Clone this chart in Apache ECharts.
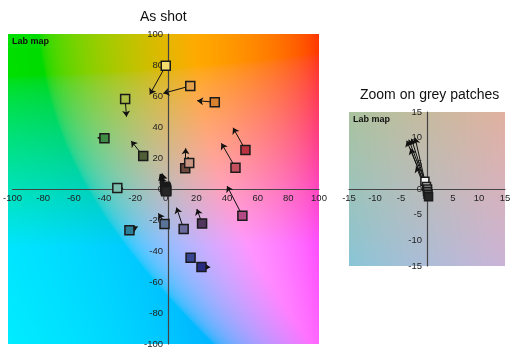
<!DOCTYPE html>
<html><head><meta charset="utf-8">
<script src="https://cdn.jsdelivr.net/npm/echarts@6/dist/echarts.min.js"></script>
<style>html,body{margin:0;padding:0;background:#fff}#c{width:530px;height:360px}</style>
</head><body><div id="c"></div>
<script>
// ---- data ----
// colour patches: measured position (square) and reference position (arrow head), in Lab a*/b*
const patchNames = ['yellow','orange','orange2','yellowgreen','green','darkgreen','brown','lightbrown','red','pinkred','magenta','bluishgreen','cyan','bluesky','lavender','purple','blue','darkblue'];
const patchA = [0, 16, 32, -26.5, -40, -14.7, 12.7, 15.3, 52, 45.5, 50, -31.6, -23.7, -0.8, 11.7, 23.7, 16.2, 23.3];
const patchB = [79.5, 66.5, 56, 58, 32.7, 21.3, 13.4, 16.8, 25.2, 13.7, -17.2, 0.6, -26.6, -22.6, -25.8, -22.2, -44.3, -50.3];
const refA = [-10.4, -1.6, 20.5, -25.6, -44.5, -22.6, 13, 14.5, 43.9, 36.3, 40, -27.8, -18.3, -4.8, 7, 20.3, 16.2, 29];
const refB = [61, 61.7, 57, 46.6, 33, 31, 26.3, 20.8, 39.5, 29.5, 1.9, 0.6, -24.3, -15.7, -12, -12.9, -44.3, -50.5];
const patchColors = ['#f2dc6e','#e3a24a','#d9822e','#a9bd45','#3f8b45','#4f5e37','#6e4a3c','#c89583','#b8323f','#c4505f','#b44a85','#7cbeae','#2a7f99','#5a7499','#6a6a9c','#533660','#36458f','#262a80'];
// grey patches
const greyA = [-0.4, -0.1, 0.1, 0.1, 0.2, 0.3];
const greyB = [1.5, 0.5, 0.0, -0.5, -1.0, -1.5];
const greyRefA = [-2.3, -3.0, -3.5, -3.9, -3.2, -2.1];
const greyRefB = [10, 9.8, 9.6, 9.4, 7.9, 4.4];
const greyColors = ['#f4f4f4','#c8c8c8','#9a9a9a','#6c6c6c','#454545','#262626'];
// axis ticks
const mainTicks = [-100, 100, 20];
const zoomTicks = [-15, 15, 5];

// ---- background Lab map ----
function lab2rgb(L, a, b) {
  const fy = (L + 16) / 116, fx = fy + a / 500, fz = fy - b / 200;
  const finv = t => t > 6/29 ? t*t*t : 3*(6/29)*(6/29)*(t - 4/29);
  const X = 0.95047*finv(fx), Y = finv(fy), Z = 1.08883*finv(fz);
  let r = 3.2406*X - 1.5372*Y - 0.4986*Z;
  let g = -0.9689*X + 1.8758*Y + 0.0415*Z;
  let bl = 0.0557*X - 0.2040*Y + 1.0570*Z;
  const gm = c => { c = c <= 0.0031308 ? 12.92*c : 1.055*Math.pow(c, 1/2.4) - 0.055; return Math.max(0, Math.min(255, Math.round(c*255))); };
  return [gm(r), gm(g), gm(bl)];
}
function makeBg(w, h, lo, hi) {
  const cv = document.createElement('canvas'); cv.width = w; cv.height = h;
  const ctx = cv.getContext('2d'); const img = ctx.createImageData(w, h);
  for (let j = 0; j < h; j++) for (let i = 0; i < w; i++) {
    const a = lo + (hi - lo) * (i + 0.5) / w, b = hi - (hi - lo) * (j + 0.5) / h;
    const c = lab2rgb(76, a, b); const k = (j*w + i)*4;
    img.data[k] = c[0]; img.data[k+1] = c[1]; img.data[k+2] = c[2]; img.data[k+3] = 255;
  }
  ctx.putImageData(img, 0, 0); return cv;
}

const G0 = {left: 8, top: 34, width: 311, height: 310};
const G1 = {left: 349, top: 112, width: 156, height: 154};
const FONT = 'Liberation Sans, Arial, sans-serif';

function axisX(gi, t, g) {
  return {type:'value', gridIndex: gi, min: t[0], max: t[1], interval: t[2], position:'bottom', offset: -g.height/2,
    axisLine:{onZero:false, lineStyle:{color:'#444', width:1.2}}, axisTick:{show:false}, splitLine:{show:false},
    axisLabel:{fontSize:9.5, color:'#222', margin:4, fontFamily: FONT}};
}
function axisY(gi, t, g) {
  return {type:'value', gridIndex: gi, min: t[0], max: t[1], interval: t[2], position:'left', offset: -g.width/2,
    axisLine:{onZero:false, lineStyle:{color:'#444', width:1.2}}, axisTick:{show:false}, splitLine:{show:false},
    axisLabel:{fontSize:9.5, color:'#222', margin:5, fontFamily: FONT}};
}
function arrows(A, B, RA, RB) {
  const out = [];
  for (let i = 0; i < A.length; i++) {
    if (A[i] === RA[i] && B[i] === RB[i]) continue;
    out.push({coords: [[A[i], B[i]], [RA[i], RB[i]]]});
  }
  return out;
}
function squares(A, B, C) {
  return A.map((a, i) => ({value: [a, B[i]], itemStyle: {color: C[i]}}));
}
const allA = patchA.concat(greyA), allB = patchB.concat(greyB);
const allRA = refA.concat(greyRefA), allRB = refB.concat(greyRefB);
const allC = patchColors.concat(greyColors);

const chart = echarts.init(document.getElementById('c'));
chart.setOption({
  animation: false,
  title: [
    {text:'As shot', left: 140, top: 10, padding: 0, textStyle:{fontSize:14, fontWeight:'normal', color:'#111', fontFamily: FONT}},
    {text:'Zoom on grey patches', left: 360, top: 88, padding: 0, textStyle:{fontSize:14, fontWeight:'normal', color:'#111', fontFamily: FONT}}
  ],
  graphic: [
    {type:'image', left: G0.left, top: G0.top, z: -10, style:{image: makeBg(G0.width, G0.height, -100, 100), width: G0.width, height: G0.height}},
    {type:'image', left: G1.left, top: G1.top, z: -10, style:{image: makeBg(G1.width, G1.height, -15, 15), width: G1.width, height: G1.height}},
    {type:'text', left: 12, top: 37, z: 5, style:{text:'Lab map', font:'bold 9px ' + FONT, fill:'#111'}},
    {type:'text', left: 353, top: 115, z: 5, style:{text:'Lab map', font:'bold 9px ' + FONT, fill:'#111'}}
  ],
  grid: [
    Object.assign({containLabel:false}, G0),
    Object.assign({containLabel:false}, G1)
  ],
  xAxis: [axisX(0, mainTicks, G0), axisX(1, zoomTicks, G1)],
  yAxis: [axisY(0, mainTicks, G0), axisY(1, zoomTicks, G1)],
  series: [
    {type:'lines', coordinateSystem:'cartesian2d', xAxisIndex:0, yAxisIndex:0, z: 3,
     symbol:['none','arrow'], symbolSize: 6, lineStyle:{color:'#111', width:1, opacity:1},
     data: arrows(allA, allB, allRA, allRB)},
    {type:'scatter', xAxisIndex:0, yAxisIndex:0, z: 4, symbol:'rect', symbolSize: 9,
     itemStyle:{borderColor:'#1a1a1a', borderWidth:1.5, opacity:1},
     data: squares(allA, allB, allC)},
    {type:'lines', coordinateSystem:'cartesian2d', xAxisIndex:1, yAxisIndex:1, z: 3,
     symbol:['none','arrow'], symbolSize: 6, lineStyle:{color:'#111', width:1, opacity:1},
     data: arrows(greyA, greyB, greyRefA, greyRefB)},
    {type:'scatter', xAxisIndex:1, yAxisIndex:1, z: 4, symbol:'rect', symbolSize: 8,
     itemStyle:{borderColor:'#1a1a1a', borderWidth:1.5, opacity:1},
     data: squares(greyA, greyB, greyColors)}
  ]
});
</script></body></html>
